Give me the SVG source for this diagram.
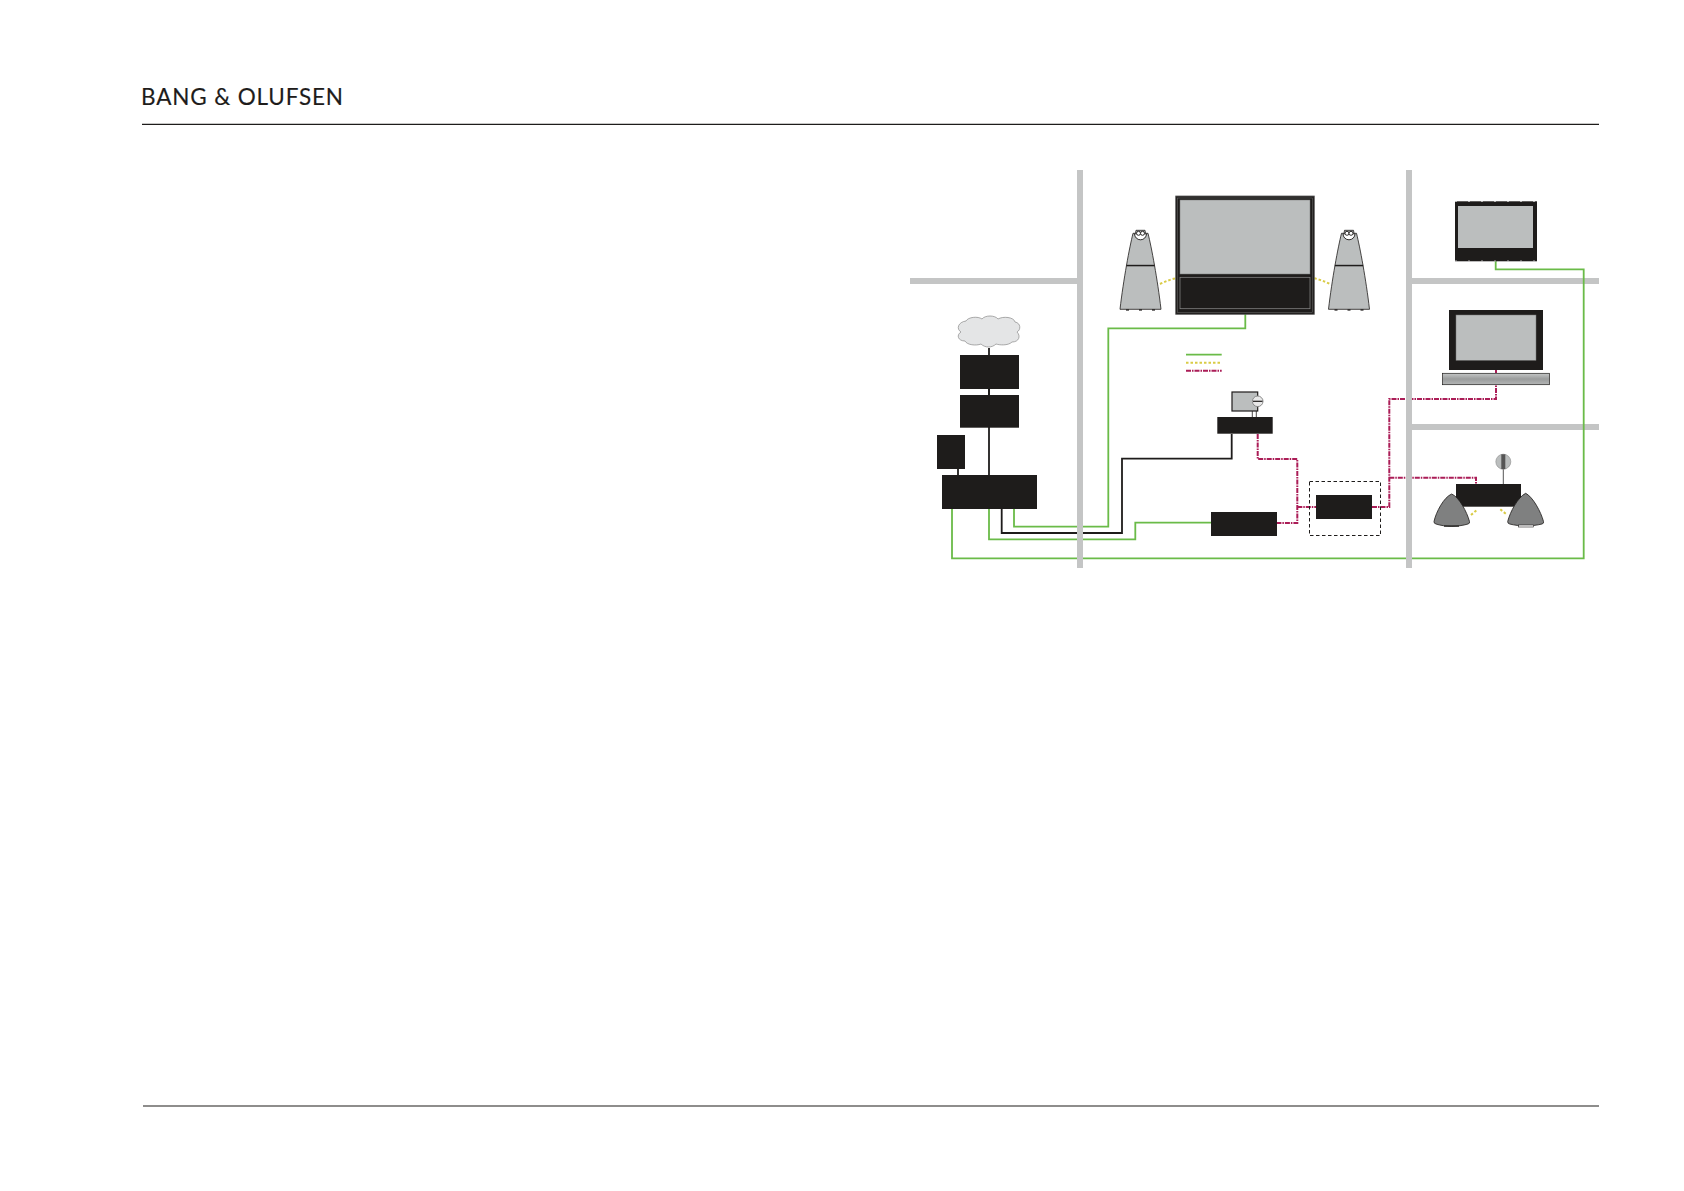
<svg xmlns="http://www.w3.org/2000/svg" width="1684" height="1191" viewBox="0 0 1684 1191">
<style>
.wall{fill:#c4c5c5}
.dk{fill:#1e1c1b}
.scr{fill:#bbbebe}
.conn{fill:none;stroke-linejoin:miter}
.g{stroke:#6abb48;stroke-width:1.8}
.k{stroke:#1e1c1b;stroke-width:1.8}
.y{stroke:#d9cb45;stroke-width:2;stroke-dasharray:2.5 2}
.r{stroke:#ab1d57;stroke-width:2;stroke-dasharray:5 1 1.5 1}
.rule{stroke:#1e1c1b;stroke-width:1.2}
.spk{fill:#bbbebe;stroke:#1e1c1b;stroke-width:.8}
.hs{fill:#7f8080;stroke:#1e1c1b;stroke-width:.8}
</style>
<defs>
<linearGradient id="bar" x1="0" y1="0" x2="0" y2="1"><stop offset="0" stop-color="#c4c6c6"/><stop offset=".5" stop-color="#9a9c9c"/><stop offset="1" stop-color="#b4b6b6"/></linearGradient>
<g id="tower">
<path class="spk" d="M-7.500 -76 L-5 -76 L-4.500 -79 L4.500 -79 L5 -76 L7.500 -76 C11 -62 17 -30 20.500 0 L-20.500 0 C-17 -30 -11 -62 -7.500 -76Z"/>
<path d="M-6 -75.500 A6 6 0 0 0 6 -75.500Z" fill="#fff" stroke="#1e1c1b" stroke-width=".9"/>
<circle cx="-2" cy="-76" r="2" fill="#fff" stroke="#1e1c1b" stroke-width=".9"/>
<circle cx="2" cy="-76" r="2" fill="#fff" stroke="#1e1c1b" stroke-width=".9"/>
<rect class="dk" x="-14.200" y="-44.500" width="28.400" height="1.500"/>
<rect class="dk" x="-14.500" y="0" width="3" height="1.300"/><rect class="dk" x="-1.500" y="0" width="3" height="1.300"/><rect class="dk" x="11.500" y="0" width="3" height="1.300"/>
</g>
</defs>
<rect width="1684" height="1191" fill="#fff"/>
<g id="header">
<text x="141" y="105" font-family="Lato, 'Open Sans', sans-serif" font-size="22.500" fill="#1e1c1b" stroke="#1e1c1b" stroke-width=".15" textLength="202" lengthAdjust="spacing">BANG &amp; OLUFSEN</text>
<line class="rule" x1="142" y1="124.400" x2="1599" y2="124.400"/>
<line class="rule" x1="143" y1="1106" x2="1599" y2="1106"/>
</g>
<g id="walls">
<rect class="wall" x="910" y="278" width="170" height="6"/>
<rect class="wall" x="1409" y="278" width="190" height="6"/>
<rect class="wall" x="1409" y="424" width="190" height="6"/>
</g>
<g id="connectors">
<path class="conn k" d="M989 348V475"/>
<path class="conn k" d="M958 469V475"/>
<path class="conn g" d="M1014 509V526.700H1108.300V328.300H1245.300V314"/>
<path class="conn k" d="M1001.700 509V533H1122V458.700H1231.700V434"/>
<path class="conn g" d="M989 509V539.300H1135.300V522.700H1211"/>
<path class="conn g" d="M952 509V558.300H1583.700V269.300H1495.700V261"/>
<path class="conn k" style="stroke-width:.8" d="M1252.300 411V417M1256.300 411V417"/>
<path class="conn r" d="M1257.700 434V459H1297.300V523H1277"/>
<path class="conn r" d="M1297.300 507H1316"/>
<path class="conn r" d="M1372 507H1389.300V399H1496V384.700"/>
<path class="conn r" d="M1496 373V370"/>
<path class="conn r" d="M1389.300 477.700H1476V484"/>
<path class="conn k" style="stroke:#555;stroke-width:1" d="M1503.300 469V484"/>
<path class="conn y" d="M1160 284Q1168 280 1175.700 278.300"/>
<path class="conn y" d="M1314.300 278.300Q1322 280 1330 284"/>
<path class="conn y" d="M1471 515L1477.700 509.300"/>
<path class="conn y" d="M1500.300 509.300L1507.300 515"/>
</g>
<g id="wall-verticals">
<rect class="wall" x="1077" y="170" width="6" height="398"/>
<rect class="wall" x="1406" y="170" width="6" height="398"/>
</g>
<g id="legend">
<line class="conn g" x1="1186" y1="354.700" x2="1221.700" y2="354.700"/>
<line class="conn y" x1="1186" y1="362.700" x2="1221.700" y2="362.700"/>
<line class="conn r" x1="1186" y1="370.700" x2="1221.700" y2="370.700"/>
</g>
<g id="main-tv">
<rect class="dk" x="1175.700" y="196" width="138.600" height="118.300" stroke="#5c5c5c" stroke-width=".8"/>
<rect x="1177.500" y="198" width="135" height="114.500" fill="none" stroke="#6e6e6e" stroke-width=".5"/>
<rect class="scr" x="1180" y="200" width="130" height="74" stroke="#777" stroke-width=".5"/>
<rect x="1180" y="277.300" width="130" height="31.400" fill="none" stroke="#8c8c8c" stroke-width=".7"/>
</g>
<use id="speaker-left" href="#tower" x="1140.500" y="309.300"/>
<use id="speaker-right" href="#tower" x="1349" y="309.300"/>
<g id="cloud">
<path d="M966 321C968 317 978 316 982 319C985 315 995 315 998 319C1003 316 1014 317 1015 322C1021 323 1021 330 1017 332C1021 336 1019 342 1012 342C1008 346 999 345 996 344C992 348 985 348 981 344C976 346 967 345 965 341C958 341 956 335 961 332C956 329 958 322 966 321Z" fill="#e4e5e6" stroke="#8a8a8a" stroke-width=".7"/>
</g>
<g id="box-1"><rect class="dk" x="960" y="355" width="59" height="34"/></g>
<rect class="dk" x="988" y="389" width="2" height="6"/>
<g id="box-2"><rect class="dk" x="960" y="395" width="59" height="32.700"/></g>
<g id="box-small"><rect class="dk" x="937" y="435" width="28" height="34"/></g>
<g id="box-main"><rect class="dk" x="942" y="475" width="95" height="34"/></g>
<g id="projector">
<rect x="1232" y="392" width="25.700" height="19" fill="#bbbebe" stroke="#1e1c1b" stroke-width="1.200"/>
<circle cx="1257.700" cy="401.300" r="5.300" fill="#e8e8e8" stroke="#8a8a8a" stroke-width="1"/>
<rect class="dk" x="1253" y="400.700" width="9.500" height="1.200"/>
<rect class="dk" x="1217.300" y="417" width="55.400" height="16.700"/>
</g>
<g id="amp"><rect class="dk" x="1211" y="512" width="66" height="24"/></g>
<g id="source">
<rect x="1309.500" y="481.500" width="71" height="54" fill="none" stroke="#1e1c1b" stroke-width="1" stroke-dasharray="3.500 2.500"/>
<rect class="dk" x="1316" y="495" width="56" height="24"/>
</g>
<g id="wall-tv">
<rect class="dk" x="1455" y="201.300" width="82" height="60"/>
<path d="M1455 201.500H1537M1455 261H1537" fill="none" stroke="#d0d0d0" stroke-width=".8" stroke-dasharray="2 11"/>
<rect class="scr" x="1458" y="206" width="75" height="42"/>
</g>
<g id="bedroom-tv">
<rect class="dk" x="1449" y="310" width="94" height="60"/>
<rect class="scr" x="1456" y="315" width="80" height="45.300" stroke="#777" stroke-width=".5"/>
<rect x="1442.500" y="373.300" width="107" height="11.400" fill="url(#bar)" stroke="#1e1c1b" stroke-width=".7"/>
</g>
<g id="music-system">
<circle cx="1503.300" cy="461.700" r="7.500" fill="#bbbebe" stroke="#8a8a8a" stroke-width=".6"/>
<rect x="1501.300" y="454.300" width="4" height="14.800" fill="#555"/>
<rect class="dk" x="1456" y="484" width="65" height="22.700"/>
<path class="hs" d="M1451.700 494C1459 497 1467 512 1469.500 521.500Q1470 523.500 1468 524C1458 527 1445 527 1436 524Q1433.800 523.500 1434 521.500C1436 512 1444 497 1451.700 494Z"/>
<path d="M1444 525.500H1459V526.700H1444Z" fill="#1e1c1b"/>
<path class="hs" d="M1525.700 493.300C1533 497 1541 512 1543.500 521.500Q1544 523.500 1542 524C1532 526.500 1519 526.500 1509.700 524Q1507.500 523.500 1507.700 521.500C1510 512 1518 497 1525.700 493.300Z"/>
<rect x="1518.500" y="525" width="15" height="2" fill="#fff" stroke="#1e1c1b" stroke-width=".6"/>
</g>
</svg>
